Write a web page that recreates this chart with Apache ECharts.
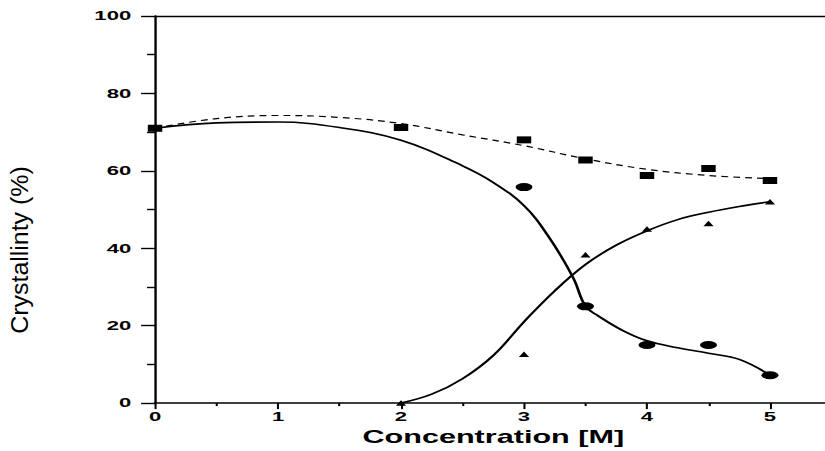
<!DOCTYPE html>
<html>
<head>
<meta charset="utf-8">
<script src="https://cdn.jsdelivr.net/npm/echarts@6/dist/echarts.min.js"></script>
<style>
  html, body { margin: 0; padding: 0; background: #fff; overflow: hidden; width: 825px; height: 451px; }
  #chart { width: 490px; height: 451px; transform: scaleX(1.7); transform-origin: 0 0; }
</style>
</head>
<body>
<div id="chart"></div>
<script>
// Measured points
const squareX = [0, 2, 3, 3.5, 4, 4.5, 5];
const squareY = [71, 71.2, 68, 62.8, 58.8, 60.6, 57.5];
const circleX = [3, 3.5, 4, 4.5, 5];
const circleY = [55.8, 25, 15, 15, 7.2];
const triangleX = [2, 3, 3.5, 4, 4.5, 5];
const triangleY = [0, 12.6, 38.3, 45, 46.4, 52];

// Fitted curves
const squareFitX = [0, 0.5, 1, 1.5, 2, 2.5, 3, 3.5, 4, 4.5, 5];
const squareFitY = [71, 73.5, 74.3, 73.8, 72.2, 69.3, 66.5, 63.1, 60.4, 58.8, 58.0];
const circleFitX = [0, 0.5, 1, 1.5, 2, 2.5, 2.75, 3, 3.2, 3.4, 3.5, 3.6, 3.8, 4, 4.25, 4.5, 4.75, 5];
const circleFitY = [71, 72.4, 72.6, 71.2, 67.9, 61.3, 57, 51, 43, 32.4, 25, 22.6, 18.8, 16.1, 14.3, 12.9, 11.3, 7.2];
const triFitX = [2, 2.25, 2.5, 2.75, 3, 3.25, 3.5, 3.75, 4, 4.25, 4.5, 4.75, 5];
const triFitY = [0, 2.3, 6.3, 12.3, 21, 29, 35.8, 40.8, 44.5, 47.4, 49.3, 50.8, 52];

// Axis settings
const xTicks = { min: 0, max: 5.5, interval: 1 };
const yTicks = { min: 0, max: 100, interval: 20 };
const xTitle = 'Concentration [M]';
const yTitle = 'Crystallinty (%)';

const zip = (xs, ys) => xs.map((x, i) => [x, ys[i]]);
const ellipse = 'path://M0,5 A5,5 0 1,1 10,5 A5,5 0 1,1 0,5 Z';

const chart = echarts.init(document.getElementById('chart'), null, { renderer: 'svg' });
const font = '"Liberation Sans", Arial, sans-serif';
chart.setOption({
  animation: false,
  backgroundColor: '#fff',
  grid: { left: 91.2, right: 0.9, top: 16, bottom: 47 },
  xAxis: [{
    type: 'value', min: xTicks.min, max: xTicks.max, interval: xTicks.interval,
    name: xTitle, nameLocation: 'middle', nameGap: 24,
    nameTextStyle: { fontFamily: font, fontWeight: 'bold', fontSize: 18, color: '#000' },
    axisLine: { show: true, onZero: false, lineStyle: { color: '#000', width: 1.6 } },
    axisTick: { show: true, inside: false, length: 6, lineStyle: { color: '#000', width: 1.2 } },
    minorTick: { show: true, splitNumber: 2, length: 3, lineStyle: { color: '#000', width: 1.2 } },
    axisLabel: { color: '#000', fontFamily: font, fontWeight: 'bold', fontSize: 13, margin: 7, showMaxLabel: false },
    splitLine: { show: false }
  }, {
    type: 'value', position: 'top', min: xTicks.min, max: xTicks.max,
    axisLine: { show: true, onZero: false, lineStyle: { color: '#000', width: 1.4 } },
    axisTick: { show: false }, axisLabel: { show: false }, splitLine: { show: false }
  }],
  yAxis: {
    type: 'value', min: yTicks.min, max: yTicks.max, interval: yTicks.interval,
    axisLine: { show: true, onZero: false, lineStyle: { color: '#000', width: 1.4 } },
    axisTick: { show: true, length: 8.2, lineStyle: { color: '#000', width: 1.4 } },
    minorTick: { show: true, splitNumber: 2, length: 4.7, lineStyle: { color: '#000', width: 1.4 } },
    axisLabel: { color: '#000', fontFamily: font, fontWeight: 'bold', fontSize: 13, margin: 14 },
    splitLine: { show: false }
  },
  graphic: [{
    type: 'text', x: 11.5, y: 250, rotation: Math.PI / 2, scaleX: 1.78,
    style: { text: yTitle, font: '14px ' + font, fill: '#000', align: 'center', verticalAlign: 'middle' }
  }],
  series: [
    { type: 'line', data: zip(squareFitX, squareFitY), smooth: 0.4, showSymbol: false,
      lineStyle: { color: '#000', width: 1.2, type: [4, 3] }, z: 2 },
    { type: 'line', data: zip(circleFitX, circleFitY), smooth: 0.4, showSymbol: false,
      lineStyle: { color: '#000', width: 1.6 }, z: 2 },
    { type: 'line', data: zip(triFitX, triFitY), smooth: 0.4, showSymbol: false,
      lineStyle: { color: '#000', width: 1.6 }, z: 2 },
    { type: 'scatter', data: zip(circleX, circleY), symbol: ellipse, symbolSize: [10, 8],
      itemStyle: { color: '#000', opacity: 1 }, z: 3 },
    { type: 'scatter', data: zip(squareX, squareY), symbol: 'rect', symbolSize: [8.5, 7],
      itemStyle: { color: '#000', opacity: 1 }, z: 4 },
    { type: 'scatter', data: zip(triangleX, triangleY), symbol: 'triangle', symbolSize: [6, 5.5],
      itemStyle: { color: '#000', opacity: 1 }, z: 3 }
  ]
});
</script>
</body>
</html>
